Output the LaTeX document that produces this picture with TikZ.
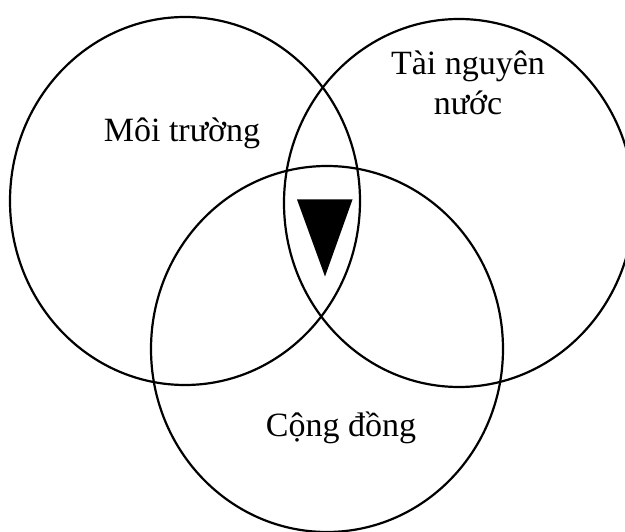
\documentclass[tikz,border=0pt]{standalone}
\usepackage{fontspec}
\setmainfont{Liberation Serif}
\begin{document}
\begin{tikzpicture}[x=1pt,y=-1pt,
  ring/.style={draw=black,line width=2.2pt},
  lbl/.style={font=\fontsize{34}{40}\selectfont,align=center,inner sep=0pt}]
\clip (0,0) rectangle (625,532);
\useasboundingbox (0,0) rectangle (625,532);
\draw[ring] (185,201) ellipse [x radius=175,y radius=184];
\draw[ring] (459,203) ellipse [x radius=175,y radius=184];
\draw[ring] (327,349) ellipse [x radius=176,y radius=183];
\fill[black] (297,199.5) -- (352.5,199.5) -- (325,276.5) -- cycle;
\node[lbl,anchor=base] (env) at (182,142) {Môi trường};
\node[lbl,anchor=base] (water) at (468,115) {Tài nguyên\\nước};
\node[lbl,anchor=base] (comm) at (341,436) {Cộng đồng};
\end{tikzpicture}
\end{document}
